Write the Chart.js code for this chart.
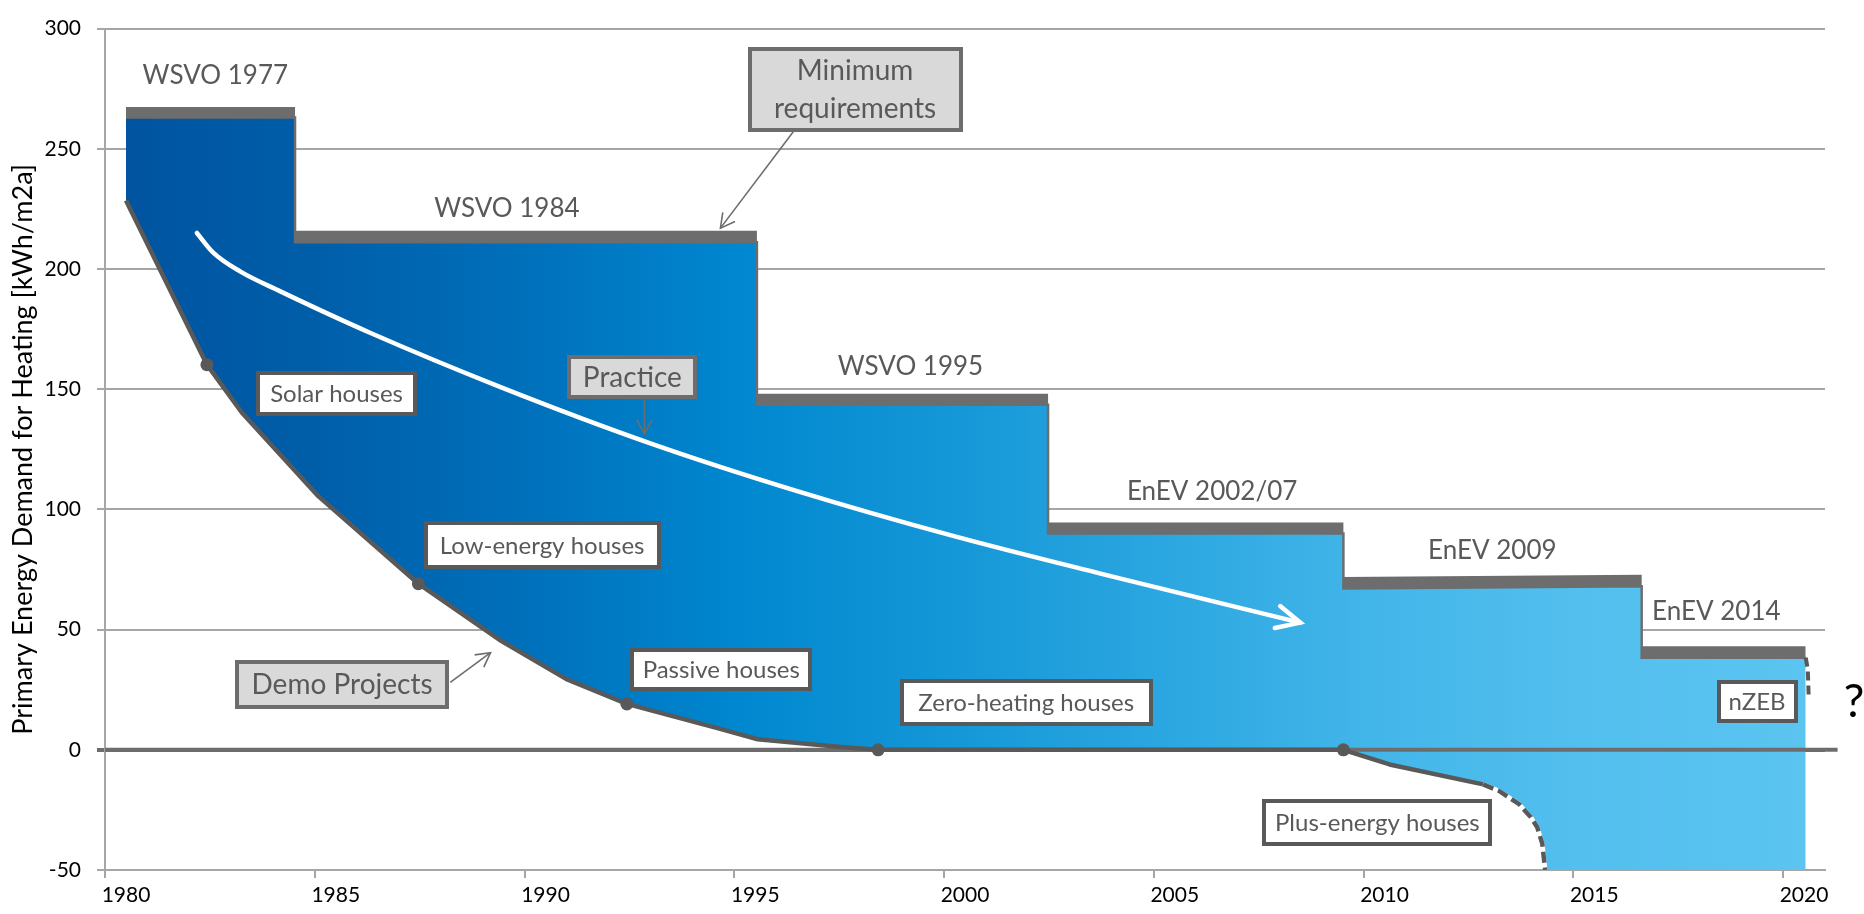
<!DOCTYPE html>
<html>
<head>
<meta charset="utf-8">
<title>Primary Energy Demand for Heating</title>
<script src="https://cdn.jsdelivr.net/npm/chart.js@4.4.1/dist/chart.umd.min.js"></script>
<style>
  html, body { margin: 0; padding: 0; background: #ffffff; }
  #wrap { position: relative; width: 1864px; height: 914px; }
</style>
</head>
<body>
<div id="wrap"><canvas id="chart" width="1864" height="914"></canvas></div>
<script>
// ---------------- data ----------------
const xTickYears  = [1980, 1985, 1990, 1995, 2000, 2005, 2010, 2015, 2020];
const yTickValues = [-50, 0, 50, 100, 150, 200, 250, 300];

// Minimum requirements (legal standards): grey band between upper and lower level
const reqLabels     = ['WSVO 1977', 'WSVO 1984', 'WSVO 1995', 'EnEV 2002/07', 'EnEV 2009', 'EnEV 2014'];
const reqStart      = [1980.5, 1984.53, 1995.54, 2002.48, 2009.52, 2016.63];
const reqEnd        = [1984.53, 1995.54, 2002.48, 2009.52, 2016.63, 2020.54];
const reqUpperStart = [267.4, 215.9, 148.1, 94.5, 71.9, 43.1];
const reqUpperEnd   = [267.4, 215.9, 148.1, 94.5, 72.8, 43.1];
const reqLowerStart = [263.0, 211.1, 143.5, 90.0, 67.1, 38.3];
const reqLowerEnd   = [263.0, 211.1, 143.5, 90.0, 68.0, 38.3];

// Demo projects (lower edge)
const demoYears  = [1980.5, 1982.43, 1983.26, 1985.09, 1987.47, 1989.40, 1991.00, 1992.44, 1994.62, 1995.56, 1997.54, 1998.43, 2009.52, 2010.62, 2012.85];
const demoValues = [228.5, 160.2, 140.3, 105.4, 69.1, 45.8, 29.4, 19.1, 8.9, 4.4, 1.2, 0, 0, -6.1, -14.4];

// Plus-energy outlook (dashed)
const plusYears  = [2012.85, 2013.23, 2013.71, 2013.99, 2014.14, 2014.26, 2014.33];
const plusValues = [-14.4, -17.1, -22.6, -28.1, -32.2, -39.0, -50];

// nZEB outlook (dashed)
const nzebYears  = [2020.54, 2020.59, 2020.61];
const nzebValues = [38.3, 33.5, 22.6];

// Milestones on the demo curve
const milestoneLabels = ['Solar houses', 'Low-energy houses', 'Passive houses', 'Zero-heating houses', 'Plus-energy houses'];
const milestoneYears  = [1982.43, 1987.47, 1992.44, 1998.43, 2009.52];
const milestoneValues = [160.2, 69.1, 19.1, 0, 0];

// Practice trend (white arrow)
const practiceYears  = [1982.19, 1982.58, 1983.23, 1984.18, 1986.33, 1989.43, 1993.00, 1996.58, 2000.15, 2003.73, 2008.49];
const practiceValues = [215.0, 206.8, 198.9, 190.7, 173.4, 150.9, 127.5, 107.2, 89.3, 73.3, 52.9];

// ---------------- axis settings ----------------
const X_MIN = 1980, X_MAX = 2021, Y_MIN = -50, Y_MAX = 300;
const ZERO_LINE_END = 2021.3;

// ---------------- annotation layout (positions in data units) ----------------
const REQ_LABEL_POS = [[1982.63, 280.5], [1989.58, 225.0], [1999.20, 159.5], [2006.39, 107.5], [2013.07, 82.7], [2018.41, 57.4]];
const MILESTONE_BOX = [
  { x: 1985.52, y: 148.2, w: 161, h: 45 },
  { x: 1990.42, y: 85.2,  w: 237, h: 48 },
  { x: 1994.69, y: 33.6,  w: 182, h: 43 },
  { x: 2001.96, y: 19.6,  w: 253, h: 47 },
  { x: 2010.33, y: -30.1, w: 230, h: 47 }
];
const CALLOUTS = [
  { lines: ['Minimum', 'requirements'], x: 1997.88, y: 274.8, w: 215, h: 85, from: [1996.42, 257.4], to: [1994.67, 217.0] },
  { lines: ['Practice'],                x: 1992.57, y: 155.0, w: 130, h: 44, from: [1992.86, 145.8], to: [1992.86, 131.4] },
  { lines: ['Demo Projects'],           x: 1985.65, y: 27.2,  w: 214, h: 49, from: [1988.23, 28.05], to: [1989.19, 40.4] }
];
const NZEB_BOX = { text: 'nZEB', x: 2019.38, y: 20.0, w: 81, h: 43 };
const QUESTION = { text: '?', x: 2021.69, y: 19.8 };

// ---------------- styles ----------------
const FONT = "Lato, 'DejaVu Sans', sans-serif";
const GREY_TEXT = '#595959';
const BAR_GREY = '#6d6d6d';
const GRID_GREY = '#a6a6a6';
const GRADIENT_STOPS = [
  [0.000, '#0054a0'], [0.112, '#005ea9'], [0.237, '#0070bb'], [0.362, '#0087cf'],
  [0.487, '#1497d7'], [0.612, '#2aa6e0'], [0.737, '#42b5e9'], [0.862, '#52bfee'], [1.000, '#5bc4f1']
];

// ---------------- helpers ----------------
const toPts = (xs, ys) => xs.map((x, i) => ({ x, y: ys[i] }));
function stepPts(starts, ends, vs, ve) {
  const p = [];
  starts.forEach((s, i) => { p.push({ x: s, y: vs[i] }); p.push({ x: ends[i], y: ve[i] }); });
  return p;
}
const demoPts = toPts(demoYears, demoValues);
const plusPts = toPts(plusYears, plusValues);
const boundaryPts = demoPts.concat(plusPts.slice(1), [{ x: reqEnd[reqEnd.length - 1], y: Y_MIN }]);

function blueGradient(c) {
  const chart = c.chart;
  if (!chart.chartArea) return '#0287cf';
  const xs = chart.scales.x;
  const x0 = xs.getPixelForValue(reqStart[0]);
  const x1 = xs.getPixelForValue(reqEnd[reqEnd.length - 1]);
  const g = chart.ctx.createLinearGradient(x0, 0, x1, 0);
  GRADIENT_STOPS.forEach(([t, col]) => g.addColorStop(t, col));
  return g;
}

function arrowHead(ctx, x, y, ang, len, half) {
  ctx.beginPath();
  ctx.moveTo(x + len * Math.cos(ang + Math.PI - half), y + len * Math.sin(ang + Math.PI - half));
  ctx.lineTo(x, y);
  ctx.lineTo(x + len * Math.cos(ang + Math.PI + half), y + len * Math.sin(ang + Math.PI + half));
  ctx.stroke();
}

function drawBox(ctx, cx, cy, w, h, fill, border, bw, lines, fontSize, lineGap) {
  const x = Math.round(cx - w / 2), y = Math.round(cy - h / 2);
  ctx.fillStyle = fill;
  ctx.fillRect(x, y, w, h);
  ctx.strokeStyle = border;
  ctx.lineWidth = bw;
  ctx.strokeRect(x + bw / 2, y + bw / 2, w - bw, h - bw);
  ctx.fillStyle = GREY_TEXT;
  ctx.font = fontSize + 'px ' + FONT;
  ctx.textAlign = 'center';
  ctx.textBaseline = 'middle';
  const n = lines.length;
  lines.forEach((t, i) => ctx.fillText(t, cx, cy + (i - (n - 1) / 2) * lineGap + 1));
}

const annotationPlugin = {
  id: 'annotations',
  afterDatasetsDraw(chart) {
    const { ctx } = chart;
    const xs = chart.scales.x, ys = chart.scales.y;
    const px = v => xs.getPixelForValue(v), py = v => ys.getPixelForValue(v);
    ctx.save();

    // arrowhead of the practice trend
    const meta = chart.getDatasetMeta(0);
    const pts = meta.data;
    const last = pts[pts.length - 1];
    let dx = last.x - (last.cp1x !== undefined ? last.cp1x : pts[pts.length - 2].x);
    let dy = last.y - (last.cp1y !== undefined ? last.cp1y : pts[pts.length - 2].y);
    if (Math.abs(dx) + Math.abs(dy) < 0.01) { dx = last.x - pts[pts.length - 2].x; dy = last.y - pts[pts.length - 2].y; }
    ctx.strokeStyle = '#ffffff';
    ctx.lineWidth = 4.5;
    ctx.lineCap = 'round';
    ctx.lineJoin = 'miter';
    arrowHead(ctx, last.x, last.y, Math.atan2(dy, dx), 26, 0.45);

    // call-out arrows
    ctx.strokeStyle = BAR_GREY;
    ctx.lineWidth = 1.6;
    ctx.lineCap = 'butt';
    CALLOUTS.forEach(c => {
      const x1 = px(c.from[0]), y1 = py(c.from[1]), x2 = px(c.to[0]), y2 = py(c.to[1]);
      ctx.beginPath(); ctx.moveTo(x1, y1); ctx.lineTo(x2, y2); ctx.stroke();
      arrowHead(ctx, x2, y2, Math.atan2(y2 - y1, x2 - x1), 16, 0.5);
    });

    // requirement labels
    ctx.fillStyle = GREY_TEXT;
    ctx.font = '26px ' + FONT;
    ctx.textAlign = 'center';
    ctx.textBaseline = 'middle';
    reqLabels.forEach((t, i) => ctx.fillText(t, px(REQ_LABEL_POS[i][0]), py(REQ_LABEL_POS[i][1])));

    // milestone boxes (white)
    milestoneLabels.forEach((t, i) => {
      const b = MILESTONE_BOX[i];
      drawBox(ctx, px(b.x), py(b.y), b.w, b.h, '#ffffff', GREY_TEXT, 4, [t], 24, 30);
    });
    drawBox(ctx, px(NZEB_BOX.x), py(NZEB_BOX.y), NZEB_BOX.w, NZEB_BOX.h, '#ffffff', GREY_TEXT, 4, [NZEB_BOX.text], 24, 30);

    // call-out boxes (grey)
    CALLOUTS.forEach(c => drawBox(ctx, px(c.x), py(c.y), c.w, c.h, '#d9d9d9', BAR_GREY, 4, c.lines, 28, 38));

    // question mark
    ctx.fillStyle = '#000000';
    ctx.font = '46px ' + FONT;
    ctx.textAlign = 'center';
    ctx.textBaseline = 'middle';
    ctx.fillText(QUESTION.text, px(QUESTION.x), py(QUESTION.y));
    ctx.restore();
  }
};

Chart.defaults.font.family = FONT;

const datasets = [
  { label: 'Practice', data: toPts(practiceYears, practiceValues), borderColor: '#ffffff', borderWidth: 4.5,
    cubicInterpolationMode: 'monotone', borderCapStyle: 'round', pointRadius: 0, fill: false },
  { label: 'Milestones', data: toPts(milestoneYears, milestoneValues), showLine: false, pointRadius: 6.5,
    pointBackgroundColor: GREY_TEXT, pointBorderWidth: 0, pointBorderColor: GREY_TEXT, fill: false },
  { label: 'Plus-energy outlook', data: plusPts, borderColor: GREY_TEXT, borderWidth: 4.5, borderDash: [11, 5],
    pointRadius: 0, fill: false },
  { label: 'Plus-energy outlook base', data: plusPts, borderColor: '#ffffff', borderWidth: 4.5, pointRadius: 0, fill: false },
  { label: 'nZEB outlook', data: toPts(nzebYears, nzebValues), borderColor: GREY_TEXT, borderWidth: 4, borderDash: [9, 5],
    pointRadius: 0, fill: false, clip: false },
  { label: 'Demo projects', data: demoPts, borderColor: GREY_TEXT, borderWidth: 4.5, borderJoinStyle: 'round',
    pointRadius: 0, fill: false },
  { label: 'Zero', data: [{ x: X_MIN, y: 0 }, { x: ZERO_LINE_END, y: 0 }], borderColor: BAR_GREY, borderWidth: 4,
    pointRadius: 0, fill: false, clip: false },
  { label: 'Minimum requirements', data: stepPts(reqStart, reqEnd, reqUpperStart, reqUpperEnd),
    borderWidth: 0, borderColor: 'rgba(0,0,0,0)', pointRadius: 0, fill: { target: 8 }, backgroundColor: BAR_GREY },
  { label: 'Requirement level', data: stepPts(reqStart, reqEnd, reqLowerStart, reqLowerEnd),
    borderColor: BAR_GREY, borderWidth: 2.5, pointRadius: 0, fill: { target: 9 }, backgroundColor: blueGradient },
  { label: 'Demo boundary', data: boundaryPts, borderWidth: 0, borderColor: 'rgba(0,0,0,0)', pointRadius: 0, fill: false }
];

new Chart(document.getElementById('chart'), {
  type: 'line',
  data: { datasets },
  options: {
    responsive: false,
    devicePixelRatio: 1,
    animation: false,
    events: [],
    layout: { padding: { top: 18, right: 39, left: 0, bottom: 0 } },
    plugins: { legend: { display: false }, tooltip: { enabled: false }, title: { display: false } },
    scales: {
      x: {
        type: 'linear', min: X_MIN, max: X_MAX,
        afterBuildTicks: s => { s.ticks = xTickYears.map(v => ({ value: v })); },
        afterFit: s => { s.height = 44; },
        grid: { drawOnChartArea: false, drawTicks: true, tickLength: 8, color: GRID_GREY, lineWidth: 2 },
        border: { display: true, color: GRID_GREY, width: 2 },
        ticks: { callback: v => String(v), labelOffset: 21, padding: 5, color: '#000000', font: { size: 21 },
                 maxRotation: 0, autoSkip: false }
      },
      y: {
        type: 'linear', min: Y_MIN, max: Y_MAX,
        afterBuildTicks: s => { s.ticks = yTickValues.map(v => ({ value: v })); },
        afterFit: s => { s.width = 105; },
        grid: {
          color: c => (c.tick && c.tick.value === 0 ? BAR_GREY : GRID_GREY),
          lineWidth: c => (c.tick && c.tick.value === 0 ? 4 : 2),
          tickLength: 8, drawTicks: true
        },
        border: { display: true, color: GRID_GREY, width: 2 },
        ticks: { callback: v => String(v), padding: 16, color: '#000000', font: { size: 21 } },
        title: { display: true, text: 'Primary Energy Demand for Heating [kWh/m2a]', color: '#000000',
                 font: { size: 27 }, padding: { top: 7, bottom: 0 } }
      }
    }
  },
  plugins: [annotationPlugin]
});
</script>
</body>
</html>
